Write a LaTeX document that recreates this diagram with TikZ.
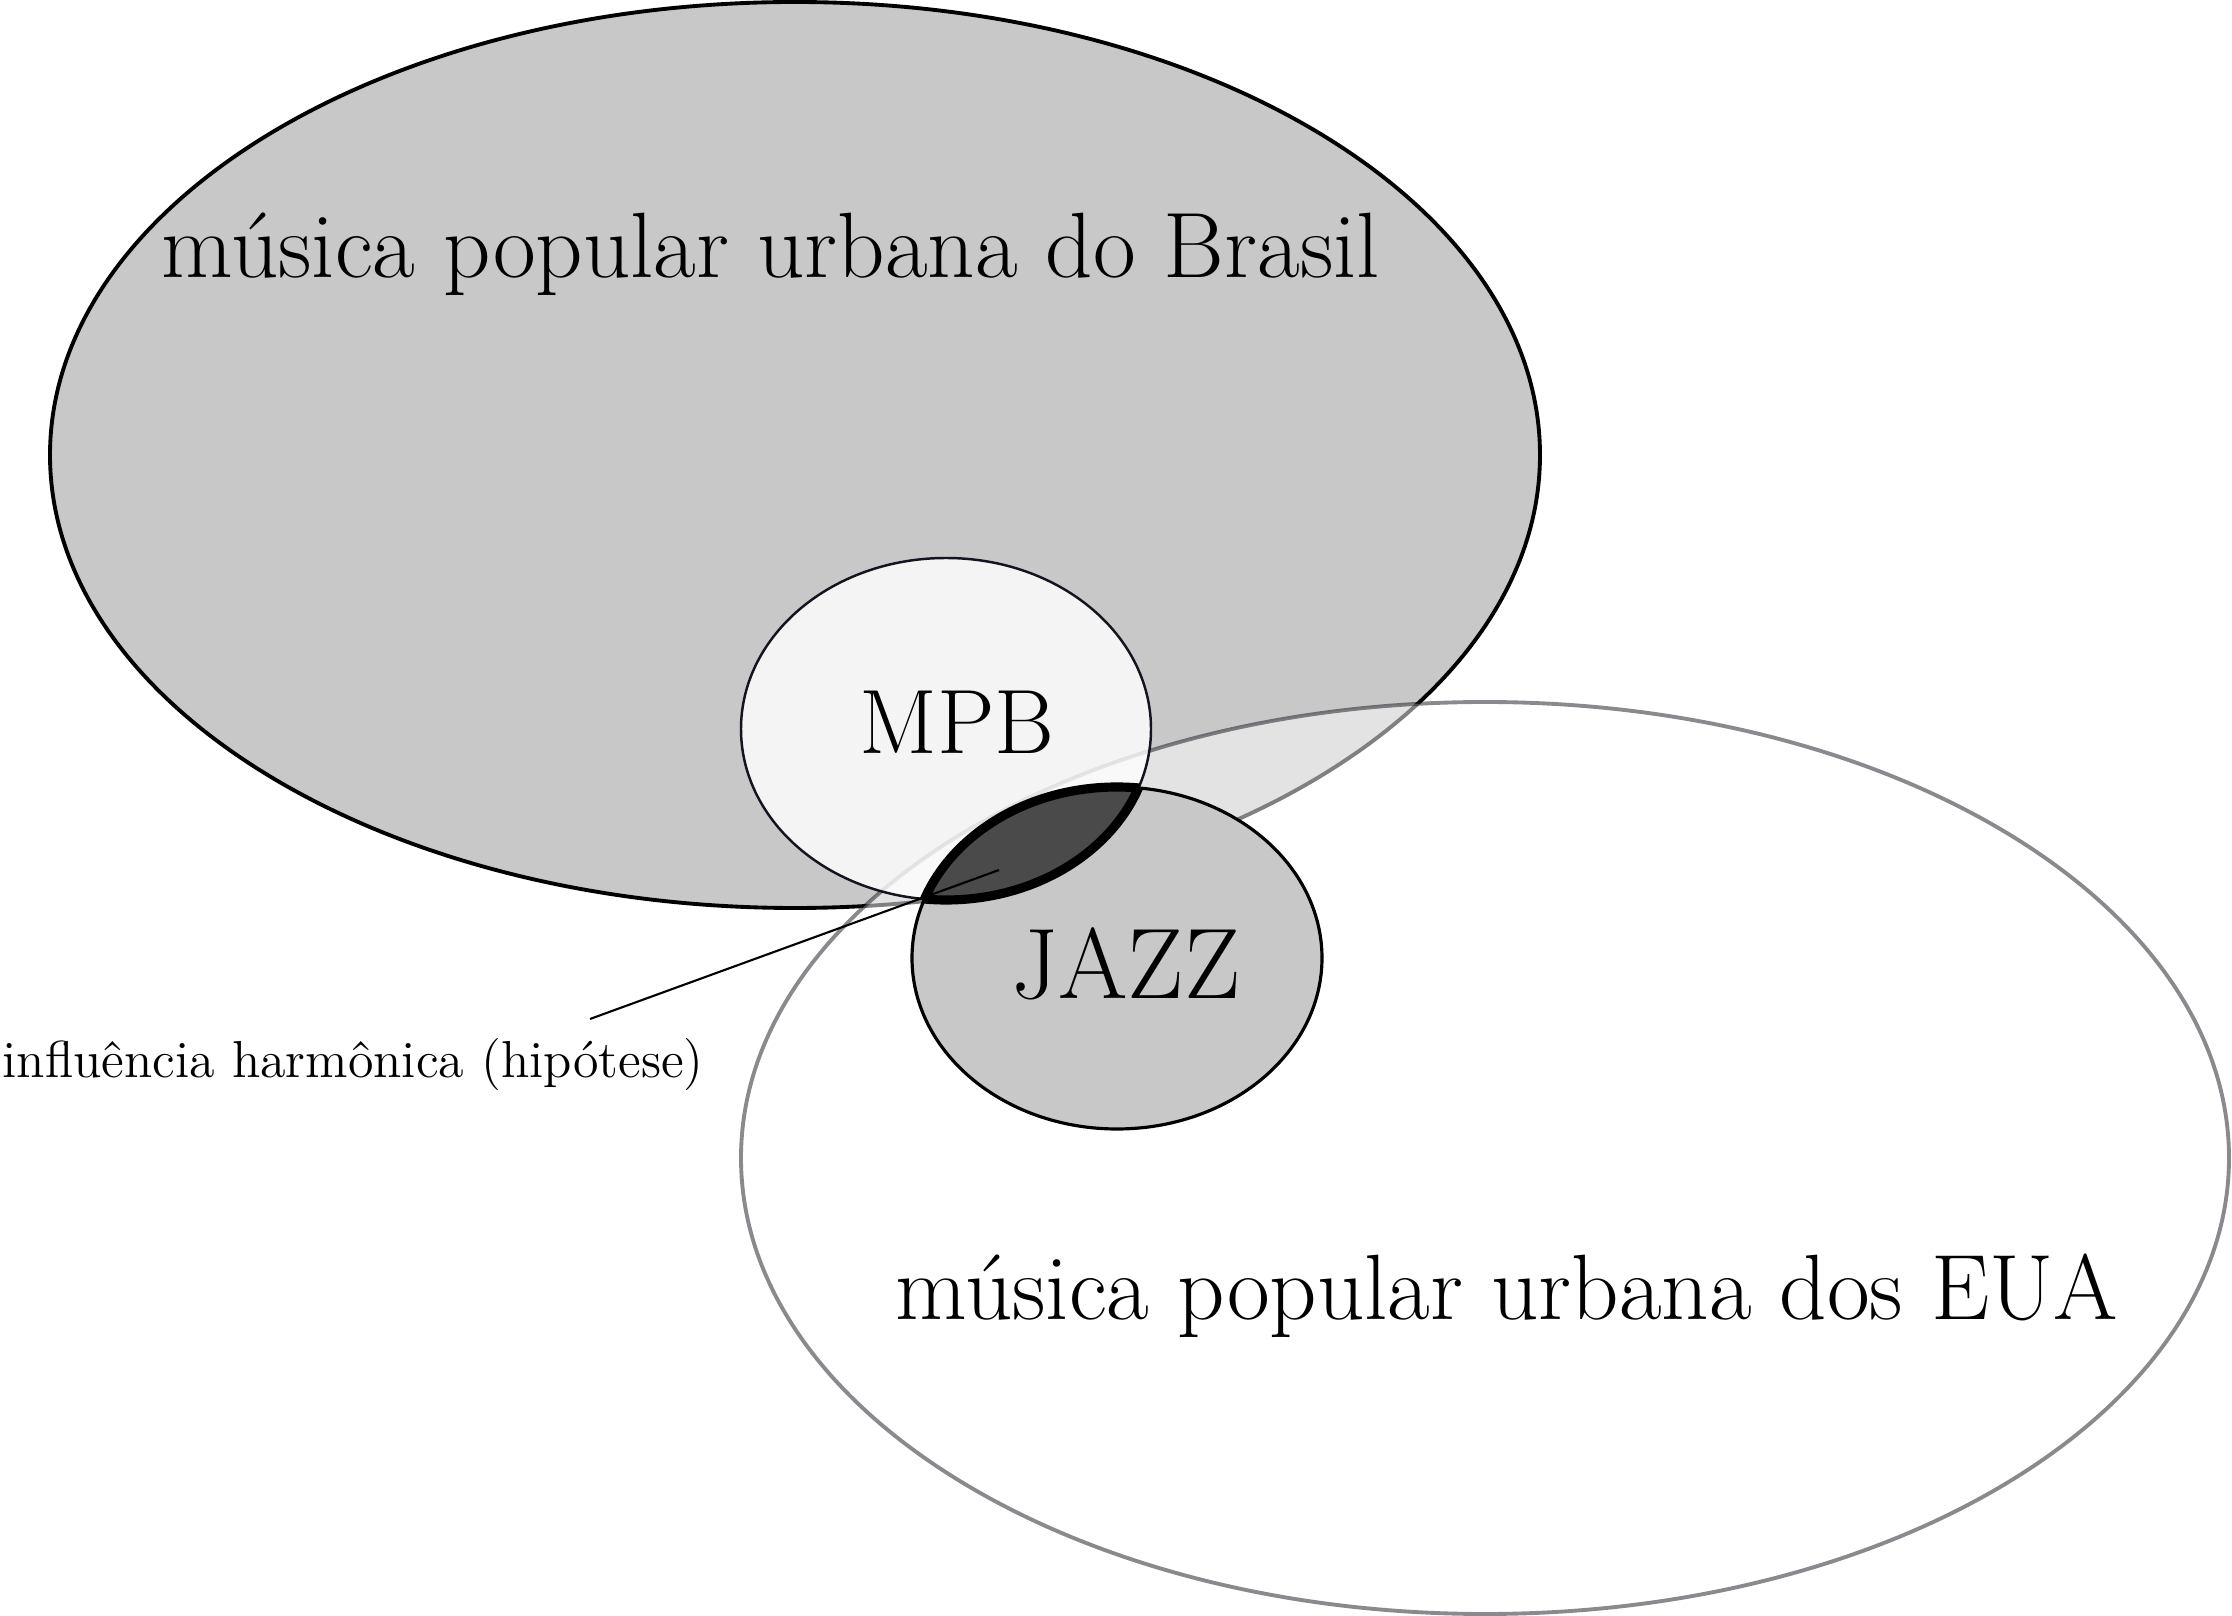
\documentclass[tikz,border=0pt]{standalone}
\usepackage{xcolor}
\usepackage{tikz}
\usetikzlibrary{positioning}

\definecolor{setgray}{RGB}{200,200,200}
\definecolor{lensgray}{RGB}{74,74,74}
\definecolor{rimdark}{RGB}{20,20,30}

\begin{document}
\begin{tikzpicture}[x=0.01cm, y=-0.01cm,
        bigtext/.style={inner sep=0pt, font=\fontsize{26.4}{30}\selectfont},
        boxtext/.style={inner sep=0pt, font=\fontsize{26}{30}\selectfont},
        smalltext/.style={inner sep=0pt, font=\fontsize{14.8}{17}\selectfont},
        lensrim/.style={line width=2.6pt}]
        \useasboundingbox (0,0) rectangle (2232,1616);

        \coordinate (brcen)   at (795,455);
        \coordinate (uscen)   at (1485,1158);
        \coordinate (mpbcen)  at (946,729);
        \coordinate (jazzcen) at (1117,958);

        % conjuntos
        \draw[line width=1.1pt, fill=setgray] (brcen) ellipse [x radius=745, y radius=453];
        \draw[line width=1.1pt, draw=rimdark, fill=white, opacity=0.5] (uscen) ellipse [x radius=744, y radius=456];
        \draw[line width=0.7pt, draw=rimdark, fill=white, fill opacity=0.8] (mpbcen) ellipse [x radius=205, y radius=171];
        \draw[line width=0.9pt, fill=setgray] (jazzcen) ellipse [x radius=205, y radius=171];

        % intersecao MPB / JAZZ
        \begin{scope}
            \clip (mpbcen) ellipse [x radius=205, y radius=171];
            \fill[lensgray] (jazzcen) ellipse [x radius=205, y radius=171];
            \draw[lensrim] (jazzcen) ellipse [x radius=205, y radius=171];
        \end{scope}
        \begin{scope}
            \clip (jazzcen) ellipse [x radius=205, y radius=171];
            \draw[lensrim] (mpbcen) ellipse [x radius=205, y radius=171];
        \end{scope}

        \node[bigtext, anchor=base west] (brtext) at (161,278) {música popular urbana do Brasil};
        \node[boxtext, anchor=base] (mpb) at (957,754) {MPB};
        \node[boxtext, anchor=base, font=\fontsize{28.5}{32}\selectfont] (jazz) at (1126,999) {JAZZ};
        \node[bigtext, anchor=base west] (ustext) at (895,1320) {música popular urbana dos EUA};
        \node[smalltext, anchor=base west] (harm) at (2,1078) {influência harmônica (hipótese)};

        \coordinate (leadfoot) at (590,1019);
        \coordinate (lensmid)  at (999,870);
        \draw[line width=0.6pt] (leadfoot) -- (lensmid);
    \end{tikzpicture}
\end{document}
